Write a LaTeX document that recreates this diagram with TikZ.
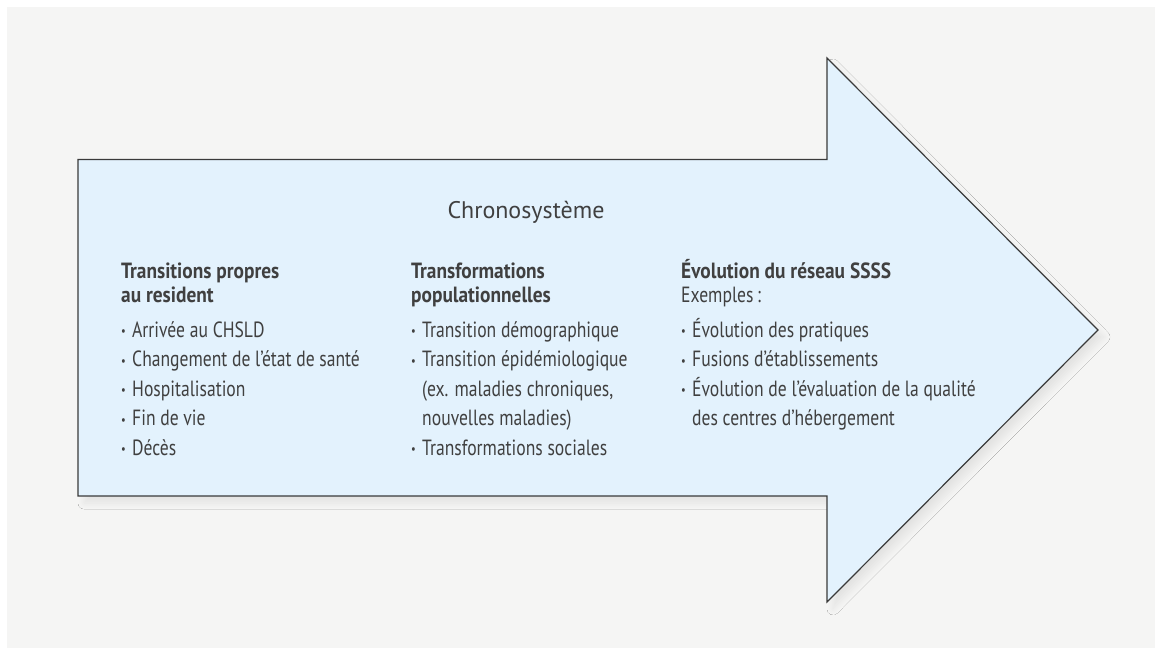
\documentclass[tikz,border=0pt]{standalone}
\usepackage{fontspec}
\setmainfont{PT Sans}
\newfontfamily\condfont[FakeStretch=0.8,BoldFeatures={FakeStretch=0.88}]{PT Sans}
\usetikzlibrary{shadows.blur}
\definecolor{pagebg}{HTML}{F5F5F4}
\definecolor{arrowfill}{HTML}{E3F2FD}
\definecolor{arrowline}{HTML}{3A3A3A}
\definecolor{inkgray}{HTML}{404040}
\newcommand\blt{\makebox[11pt][l]{\raisebox{1.5pt}{\fontsize{13}{13}\selectfont\textbullet}}}
\newcommand\cnt{\hspace*{11pt}}
\begin{document}
\begin{tikzpicture}[x=1pt,y=-1pt,
  txt/.style={anchor=base west, inner sep=0pt, text=inkgray,
    font=\condfont\fontsize{22}{26}\selectfont},
  head/.style={txt, font=\condfont\bfseries\fontsize{22}{26}\selectfont},
  titletxt/.style={inner sep=0pt, text=inkgray, font=\fontsize{24}{28}\selectfont},
  bigarrow/.style={fill=arrowfill, draw=arrowline, line width=1.2pt, line join=miter,
    blur shadow={shadow xshift=6pt, shadow yshift=-7pt, shadow blur radius=6pt,
      shadow blur steps=12, shadow opacity=7}}]
  % page
  \useasboundingbox (0,0) rectangle (1155,648);
  \fill[white] (0,0) rectangle (1155,648);
  \fill[pagebg] (7,7) rectangle (1155,648);

  % arrow
  \path[bigarrow] (78,159.5) -- (827,159.5) -- (827,58) -- (1098,330)
    -- (827,602) -- (827,496) -- (78,496) -- cycle;

  % title
  \node[titletxt] (title) at (526,212) {Chronosystème};

  % column 1
  \node[head] (h1a) at (121,278) {Transitions propres};
  \node[head] (h1b) at (121,302) {au resident};
  \node[txt] (a1) at (121,337) {\blt Arrivée au CHSLD};
  \node[txt] (a2) at (121,366.5) {\blt Changement de l’état de santé};
  \node[txt] (a3) at (121,396) {\blt Hospitalisation};
  \node[txt] (a4) at (121,425.5) {\blt Fin de vie};
  \node[txt] (a5) at (121,455) {\blt Décès};

  % column 2
  \node[head] (h2a) at (411,278) {Transformations};
  \node[head] (h2b) at (411,302) {populationnelles};
  \node[txt] (b1) at (411,337) {\blt Transition démographique};
  \node[txt] (b2) at (411,366.5) {\blt Transition épidémiologique};
  \node[txt] (b3) at (411,396) {\cnt(ex. maladies chroniques,};
  \node[txt] (b4) at (411,425.5) {\cnt nouvelles maladies)};
  \node[txt] (b5) at (411,455) {\blt Transformations sociales};

  % column 3
  \node[head] (h3a) at (681,278) {Évolution du réseau SSSS};
  \node[txt] (h3b) at (681,302) {Exemples\,:};
  \node[txt] (c1) at (681,337) {\blt Évolution des pratiques};
  \node[txt] (c2) at (681,366.5) {\blt Fusions d’établissements};
  \node[txt] (c3) at (681,396) {\blt Évolution de l’évaluation de la qualité};
  \node[txt] (c4) at (681,425.5) {\cnt des centres d’hébergement};
\end{tikzpicture}
\end{document}
